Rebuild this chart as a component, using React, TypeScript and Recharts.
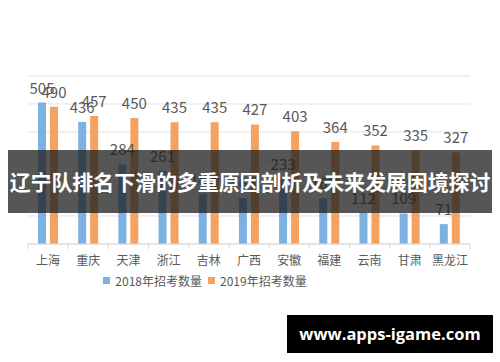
import React from 'react';
import { BarChart, Bar, XAxis, YAxis, CartesianGrid, LabelList, Legend } from 'recharts';

const categories = ['上海', '重庆', '天津', '浙江', '吉林', '广西', '安徽', '福建', '云南', '甘肃', '黑龙江'];
const values2018 = [505, 436, 284, 261, 180, 164, 233, 163, 112, 109, 71];
const values2019 = [490, 457, 450, 435, 435, 427, 403, 364, 352, 335, 327];
const yTicks = [0, 100, 200, 300, 400, 500, 600];
const seriesNames = ['2018年招考数量', '2019年招考数量'];
const bannerTitle = '辽宁队排名下滑的多重原因剖析及未来发展困境探讨';
const siteText = 'www.apps-igame.com';

const data = categories.map((c, i) => ({ name: c, a: values2018[i], b: values2019[i] }));

const BLUE = '#7DB1E1';
const ORANGE = '#F3A262';
const FONT = '"Noto Sans CJK SC", "Noto Sans", sans-serif';

const W = 500;
const H = 362;
const M = { top: 76, right: 30, left: 28, bottom: 81 };
const half = (W - M.left - M.right) / categories.length / 2;

const CatTick = (props: any) => {
  const { x, y, payload, index } = props;
  const axisY = y - 8;
  return (
    <g>
      <line x1={x - half} x2={x - half} y1={axisY} y2={axisY + 5} stroke="#d9d9d9" />
      {index === categories.length - 1 && (
        <line x1={x + half} x2={x + half} y1={axisY} y2={axisY + 5} stroke="#d9d9d9" />
      )}
      <text x={x} y={axisY + 21} textAnchor="middle" fontSize={12} fill="#595959" fontFamily={FONT}>
        {payload.value}
      </text>
    </g>
  );
};

const LegendContent = () => (
  <div style={{ display: 'flex', justifyContent: 'center', fontFamily: FONT, fontSize: 12, color: '#595959' }}>
    {seriesNames.map((n, i) => (
      <div key={n} style={{ display: 'flex', alignItems: 'center', marginRight: i === 0 ? 6 : 0 }}>
        <span style={{ width: 7, height: 7, background: i === 0 ? BLUE : ORANGE, display: 'inline-block', marginRight: 5 }} />
        <span>{n}</span>
      </div>
    ))}
  </div>
);

export default function App() {
  return (
    <div style={{ position: 'absolute', left: 0, top: 0, width: W, height: H, background: '#fff', overflow: 'hidden' }}>
      <BarChart width={W} height={H} data={data} margin={M} barSize={8} barGap={4}>
        <CartesianGrid vertical={false} stroke="#e3e3e3" />
        <YAxis hide domain={[0, 600]} ticks={yTicks} />
        <XAxis dataKey="name" axisLine={{ stroke: '#d9d9d9' }} tickLine={false} tick={<CatTick />} interval={0} height={20} />
        <Legend
          verticalAlign="bottom"
          content={<LegendContent />}
          wrapperStyle={{ position: 'absolute', left: 0, width: 410, top: 272 }}
        />
        <Bar dataKey="a" name={seriesNames[0]} fill={BLUE} isAnimationActive={false}>
          <LabelList dataKey="a" position="top" offset={9} fontSize={15} fill="#595959" fontFamily={FONT} />
        </Bar>
        <Bar dataKey="b" name={seriesNames[1]} fill={ORANGE} isAnimationActive={false}>
          <LabelList dataKey="b" position="top" offset={9} fontSize={15} fill="#595959" fontFamily={FONT} />
        </Bar>
      </BarChart>
      <div
        style={{
          position: 'absolute', left: 8, top: 150, width: 484, height: 63,
          background: 'rgba(30,30,30,0.75)', color: '#fff', fontFamily: FONT, fontWeight: 700,
          fontSize: 21, lineHeight: '63px', textAlign: 'center', whiteSpace: 'nowrap', letterSpacing: -0.1,
        }}
      >
        {bannerTitle}
      </div>
      <div
        style={{
          position: 'absolute', left: 287, top: 315, width: 206, height: 38,
          background: '#000', color: '#fff', fontFamily: '"Open Sans", "DejaVu Sans", sans-serif', fontWeight: 700,
          fontSize: 16.5, lineHeight: '38px', textAlign: 'center', whiteSpace: 'nowrap',
        }}
      >
        {siteText}
      </div>
    </div>
  );
}
